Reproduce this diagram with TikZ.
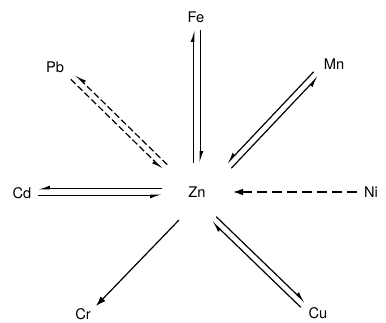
\documentclass[tikz,border=0pt]{standalone}
\usepackage{fontspec}
\setmainfont{TeX Gyre Heros}
\usetikzlibrary{arrows.meta,calc}

\begin{document}
\begin{tikzpicture}[
  x=0.75pt, y=-0.75pt,
  elem/.style={font=\fontsize{11}{13}\selectfont, inner sep=1pt},
  harp_l/.style={line width=0.9pt, -{Latex[harpoon,length=7pt,width=5pt]}},
  harp_r/.style={line width=0.9pt, -{Latex[harpoon,swap,length=7pt,width=5pt]}},
  one_way/.style={line width=0.9pt, -{Latex[length=7.5pt,width=5pt]}},
  dash_short/.style={dash pattern=on 5pt off 2.2pt},
  dash_long/.style={dash pattern=on 7.5pt off 3.8pt}
]
\useasboundingbox (0,0) rectangle (386,323);

% Elements
\node[elem] (zn) at (197,192) {Zn};
\node[elem] (fe) at (196,17)  {Fe};
\node[elem] (pb) at (55,67)   {Pb};
\node[elem] (mn) at (334,64)  {Mn};
\node[elem] (cd) at (22,193)  {Cd};
\node[elem] (ni) at (371,192) {Ni};
\node[elem] (cr) at (83,314)  {Cr};
\node[elem] (cu) at (318,313) {Cu};

% Arrow ends (Zn side / element side)
\coordinate (fe_in)  at (197,163);  \coordinate (fe_out) at (197,30);
\coordinate (pb_in)  at (165,167);  \coordinate (pb_out) at (73,77);
\coordinate (mn_in)  at (229,166);  \coordinate (mn_out) at (316,74);
\coordinate (cd_in)  at (162,192);  \coordinate (cd_out) at (38,192);
\coordinate (ni_in)  at (233,192);  \coordinate (ni_out) at (357,192);
\coordinate (cr_in)  at (179,220);  \coordinate (cr_out) at (96,306);
\coordinate (cu_in)  at (214,219);  \coordinate (cu_out) at (303,305);

% Zn <=> Fe
\draw[harp_l] ($(fe_in)!2.4pt!90:(fe_out)$) -- ($(fe_out)!2.4pt!-90:(fe_in)$);
\draw[harp_l] ($(fe_out)!2.4pt!90:(fe_in)$) -- ($(fe_in)!2.4pt!-90:(fe_out)$);

% Zn <=> Pb (dashed)
\draw[harp_r, dash_short] ($(pb_in)!2.4pt!-90:(pb_out)$) -- ($(pb_out)!2.4pt!90:(pb_in)$);
\draw[harp_r, dash_short] ($(pb_out)!2.4pt!-90:(pb_in)$) -- ($(pb_in)!2.4pt!90:(pb_out)$);

% Zn <=> Mn
\draw[harp_r] ($(mn_in)!2.4pt!-90:(mn_out)$) -- ($(mn_out)!2.4pt!90:(mn_in)$);
\draw[harp_r] ($(mn_out)!2.4pt!-90:(mn_in)$) -- ($(mn_in)!2.4pt!90:(mn_out)$);

% Zn <=> Cd
\draw[harp_r] ($(cd_in)!2.4pt!-90:(cd_out)$) -- ($(cd_out)!2.4pt!90:(cd_in)$);
\draw[harp_r] ($(cd_out)!2.4pt!-90:(cd_in)$) -- ($(cd_in)!2.4pt!90:(cd_out)$);

% Zn <=> Cu
\draw[harp_l] ($(cu_in)!2.4pt!90:(cu_out)$) -- ($(cu_out)!2.4pt!-90:(cu_in)$);
\draw[harp_l] ($(cu_out)!2.4pt!90:(cu_in)$) -- ($(cu_in)!2.4pt!-90:(cu_out)$);

% one-way
\draw[one_way, dash_long] (ni_out) -- (ni_in);
\draw[one_way] (cr_in) -- (cr_out);

\end{tikzpicture}
\end{document}
